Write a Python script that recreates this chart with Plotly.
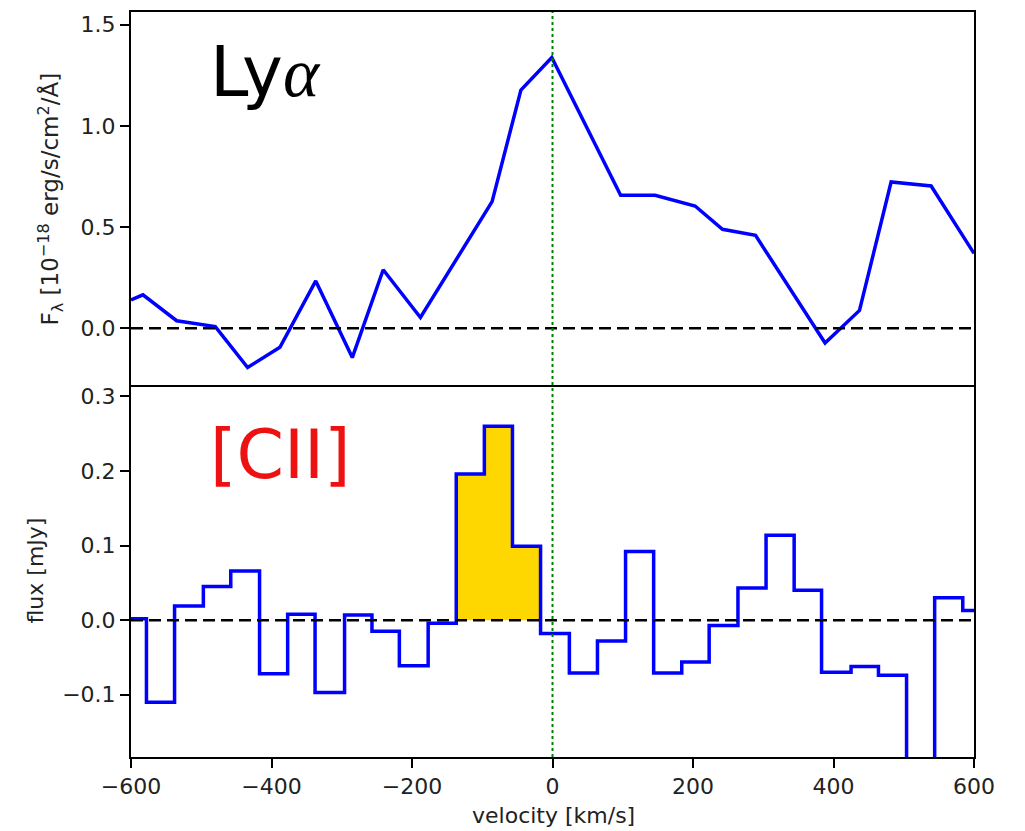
import plotly.graph_objects as go
from plotly.subplots import make_subplots

# ---- Lyman-alpha spectrum (velocity in km/s, flux in 1e-18 erg/s/cm^2/A)
lya_velocity = [-600, -583, -535, -480, -434, -388, -337, -285, -241, -188,
                -86, -45, -1, 97, 146, 203, 242, 289, 388, 437, 482, 539, 600]
lya_flux = [0.14, 0.165, 0.037, 0.008, -0.194, -0.094, 0.234, -0.145, 0.289, 0.053,
            0.626, 1.177, 1.338, 0.657, 0.657, 0.604, 0.489, 0.459, -0.073, 0.088,
            0.723, 0.703, 0.37]

# ---- [CII] spectrum: channel edges (km/s) and flux per channel (mJy)
cii_edges = [-618, -578, -538, -497, -458, -417, -377, -338, -296, -257, -218,
             -177, -137, -97, -57, -17, 24, 64, 104, 144, 184, 223, 264, 304,
             344, 383, 425, 464, 504, 544, 584, 624]
cii_flux = [0.002, -0.110, 0.019, 0.045, 0.066, -0.072, 0.008, -0.097, 0.007,
            -0.015, -0.061, -0.004, 0.196, 0.260, 0.099, -0.018, -0.071, -0.028,
            0.092, -0.071, -0.056, -0.007, 0.043, 0.114, 0.040, -0.070, -0.062,
            -0.074, -0.25, 0.030, 0.013]
# channels counted as line emission (shaded)
line_channels = [12, 13, 14]

x_ticks = [-600, -400, -200, 0, 200, 400, 600]
lya_ticks = [0.0, 0.5, 1.0, 1.5]
cii_ticks = [-0.1, 0.0, 0.1, 0.2, 0.3]

W, H = 1025, 831
ML, MR, MT, MB = 131, 51, 10, 74
PW, PH = W - ML - MR, H - MT - MB

FONT = "DejaVu Sans"
TXT = "#222222"


def px(xp):
    return (xp - ML) / PW


def py(yp):
    return (H - MB - yp) / PH


fig = make_subplots(rows=2, cols=1, shared_xaxes=True, vertical_spacing=0)

fig.add_trace(go.Scatter(x=lya_velocity, y=lya_flux, mode="lines",
                         line=dict(color="#0000ff", width=3.5),
                         showlegend=False, hoverinfo="skip"), row=1, col=1)

# shaded line channels
i0, i1 = line_channels[0], line_channels[-1]
fill_x = cii_edges[i0:i1 + 2]
fill_y = cii_flux[i0:i1 + 1] + [cii_flux[i1]]
fig.add_trace(go.Scatter(x=fill_x, y=fill_y, mode="lines", line_shape="hv",
                         line=dict(width=0, color="#ffd700"), fill="tozeroy",
                         fillcolor="#ffd700", showlegend=False, hoverinfo="skip"),
              row=2, col=1)

step_x = cii_edges
step_y = cii_flux + [cii_flux[-1]]
fig.add_trace(go.Scatter(x=step_x, y=step_y, mode="lines", line_shape="hv",
                         line=dict(color="#0000ff", width=3.5),
                         showlegend=False, hoverinfo="skip"), row=2, col=1)

axis_common = dict(showline=True, linecolor="black", linewidth=2,
                   showgrid=False, zeroline=False,
                   tickfont=dict(family=FONT, size=22, color=TXT))

fig.update_xaxes(range=[-600, 600], **axis_common)
# upper panel: frame top and bottom; lower panel: bottom only (shared border)
fig.update_xaxes(ticks="", showticklabels=False, mirror=True, row=1, col=1)
fig.update_xaxes(ticks="outside", ticklen=9, tickwidth=2, tickcolor="black", mirror=False,
                 tickvals=x_ticks, ticktext=[f"{v}".replace("-", "\u2212") for v in x_ticks],
                 row=2, col=1)

fig.update_yaxes(range=[-0.278, 1.563], tickvals=lya_ticks, tickformat=".1f",
                 ticks="outside", ticklen=9, tickwidth=2, tickcolor="black", mirror=True,
                 row=1, col=1, **axis_common)
fig.update_yaxes(range=[-0.1835, 0.316], tickvals=cii_ticks, tickformat=".1f",
                 ticks="outside", ticklen=9, tickwidth=2, tickcolor="black", mirror=True,
                 row=2, col=1, **axis_common)

# zero levels
for xref, yref in (("x", "y"), ("x2", "y2")):
    fig.add_shape(type="line", xref=xref + " domain", yref=yref, x0=0, x1=1, y0=0, y1=0,
                  line=dict(color="black", width=2.5, dash="12px,6px"), layer="above")

# systemic velocity
fig.add_shape(type="line", xref="x2", yref="paper", x0=0, x1=0, y0=0, y1=1,
              line=dict(color="#008000", width=2, dash="dot"), layer="above")

annotations = [
    dict(x=px(209), y=py(70), text="Ly<span style='font-family:Liberation Serif;font-style:italic'>α</span>",
         xanchor="left", yanchor="middle", font=dict(family=FONT, size=69, color="black")),
    dict(x=px(209), y=py(454), text="[CII]", xanchor="left", yanchor="middle",
         font=dict(family=FONT, size=68, color="#ee1111")),
    dict(x=px(553), y=py(816), text="velocity [km/s]", xanchor="center", yanchor="middle",
         font=dict(family=FONT, size=22, color=TXT)),
    dict(x=px(50), y=py(198), text="F<sub>λ</sub> [10<sup>−18</sup> erg/s/cm<sup>2</sup>/Å]",
         textangle=-90, xanchor="center", yanchor="middle",
         font=dict(family=FONT, size=23, color=TXT)),
    dict(x=px(36), y=py(570), text="flux [mJy]", textangle=-90, xanchor="center",
         yanchor="middle", font=dict(family=FONT, size=22, color=TXT)),
]
for a in annotations:
    a.update(xref="paper", yref="paper", showarrow=False, borderpad=0)
fig.update_layout(annotations=annotations)

fig.update_layout(width=W, height=H, margin=dict(l=ML, r=MR, t=MT, b=MB),
                  paper_bgcolor="white", plot_bgcolor="white",
                  font=dict(family=FONT, color=TXT))

fig.write_html("out.html")
